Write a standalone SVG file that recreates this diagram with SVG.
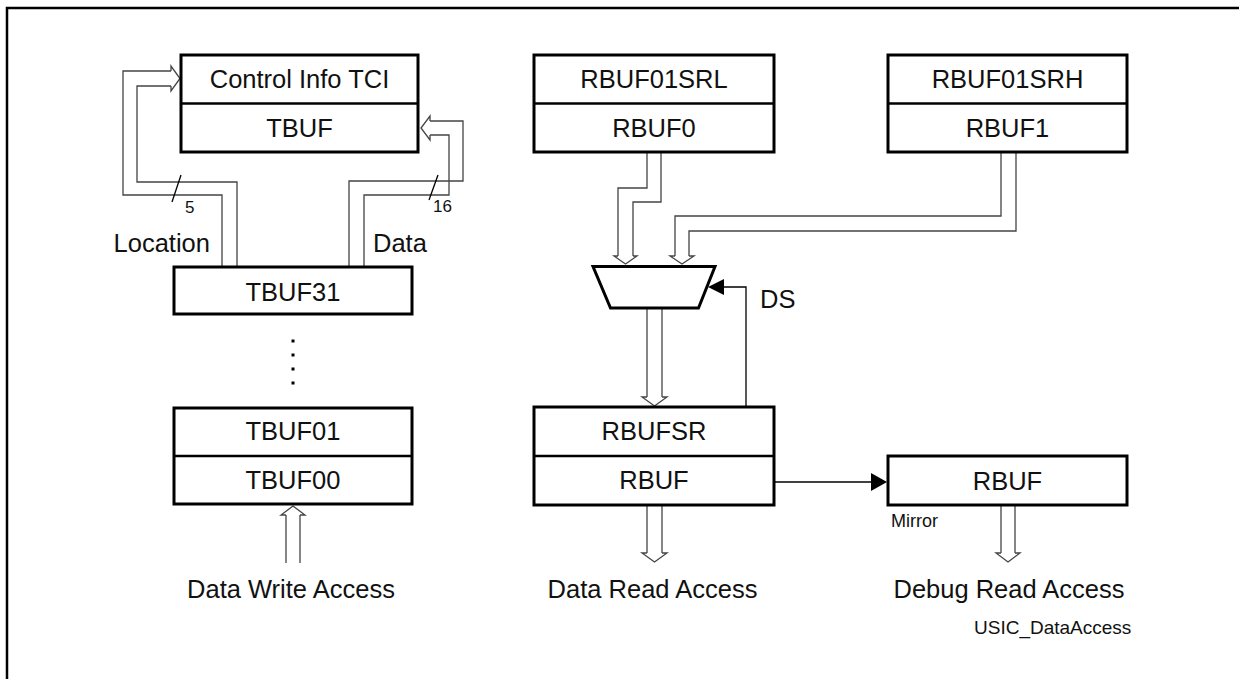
<svg xmlns="http://www.w3.org/2000/svg" width="1239" height="679" viewBox="0 0 1239 679">
<style>
  .box{fill:#fff;stroke:#000;stroke-width:3}
  .div{stroke:#000;stroke-width:2.5}
  .t{font-family:"Liberation Sans",Arial,sans-serif;font-size:25.5px;fill:#111;text-anchor:middle}
  .s{font-family:"Liberation Sans",Arial,sans-serif;font-size:18px;fill:#111}
  .bus{fill:none;stroke:#444;stroke-width:1.3}
  .head{fill:#fff;stroke:#444;stroke-width:1.3}
  .sig{fill:none;stroke:#000;stroke-width:1.3}
</style>
<rect width="1239" height="679" fill="#fff"/>
<path d="M7 679 V8 H1239" fill="none" stroke="#000" stroke-width="2.5"/>

<g id="connectors">
  <!-- Location bus to Control Info -->
  <polyline class="bus" points="222,267 222,195 123,195 123,71 171,71"/>
  <polyline class="bus" points="237,267 237,182 137,182 137,86 171,86"/>
  <polyline class="head" points="171,71 171,66 180,78.5 171,91 171,86"/>
  <line class="sig" x1="181" y1="175" x2="172" y2="202"/>
  <!-- Data bus to TBUF -->
  <polyline class="bus" points="349,267 349,181 463,181 463,121 430,121"/>
  <polyline class="bus" points="364,267 364,195 449,195 449,135 430,135"/>
  <polyline class="head" points="430,121 430,116 421,128 430,140 430,135"/>
  <line class="sig" x1="438" y1="175" x2="429" y2="200"/>
  <!-- Data write access -->
  <polyline class="bus" points="286,563 286,515"/>
  <polyline class="bus" points="300,563 300,515"/>
  <polyline class="head" points="286,515 281,515 293,506 305,515 300,515"/>
  <!-- RBUF0 to mux -->
  <polyline class="bus" points="647,153 647,188 618,188 618,256"/>
  <polyline class="bus" points="661,153 661,202 633,202 633,256"/>
  <polyline class="head" points="618,256 614,256 625.5,264 637,256 633,256"/>
  <!-- RBUF1 to mux -->
  <polyline class="bus" points="1001,153 1001,216 675,216 675,256"/>
  <polyline class="bus" points="1016,153 1016,231 689,231 689,256"/>
  <polyline class="head" points="675,256 670,256 682,264 694,256 689,256"/>
  <!-- mux to RBUFSR -->
  <polyline class="bus" points="647,309 647,397"/>
  <polyline class="bus" points="662,309 662,397"/>
  <polyline class="head" points="647,397 642,397 654.5,406 667,397 662,397"/>
  <!-- DS -->
  <polyline class="sig" points="746,406 746,287 722,287"/>
  <polygon points="708,287 724,279 724,295" fill="#000"/>
  <!-- RBUF to mirror -->
  <line class="sig" x1="775" y1="482" x2="872" y2="482"/>
  <polygon points="887,482 871,473 871,491" fill="#000"/>
  <!-- Data read access -->
  <polyline class="bus" points="647,506 647,553"/>
  <polyline class="bus" points="662,506 662,553"/>
  <polyline class="head" points="647,553 642,553 654.5,562 667,553 662,553"/>
  <!-- Debug read access -->
  <polyline class="bus" points="1001,506 1001,553"/>
  <polyline class="bus" points="1015,506 1015,553"/>
  <polyline class="head" points="1001,553 996,553 1008,562 1020,553 1015,553"/>
</g>

<g id="tci-tbuf">
  <rect class="box" x="181" y="55" width="237" height="97"/>
  <line class="div" x1="181" y1="103.5" x2="418" y2="103.5"/>
  <text class="t" x="299.5" y="88">Control Info TCI</text>
  <text class="t" x="299.5" y="137">TBUF</text>
</g>

<g id="tbuf31">
  <rect class="box" x="174" y="267" width="238" height="47"/>
  <text class="t" x="293" y="301">TBUF31</text>
</g>

<g id="dots">
  <rect x="291.5" y="339.5" width="3" height="3" fill="#000"/>
  <rect x="291.5" y="353.5" width="3" height="3" fill="#000"/>
  <rect x="291.5" y="367.5" width="3" height="3" fill="#000"/>
  <rect x="291.5" y="381.5" width="3" height="3" fill="#000"/>
</g>

<g id="tbuf01-00">
  <rect class="box" x="174" y="408" width="238" height="96"/>
  <line class="div" x1="174" y1="456" x2="412" y2="456"/>
  <text class="t" x="293" y="440">TBUF01</text>
  <text class="t" x="293" y="489">TBUF00</text>
</g>

<g id="rbuf01srl">
  <rect class="box" x="534" y="55" width="240" height="97"/>
  <line class="div" x1="534" y1="103.5" x2="774" y2="103.5"/>
  <text class="t" x="654" y="88">RBUF01SRL</text>
  <text class="t" x="654" y="137">RBUF0</text>
</g>

<g id="rbuf01srh">
  <rect class="box" x="888" y="55" width="239" height="97"/>
  <line class="div" x1="888" y1="103.5" x2="1127" y2="103.5"/>
  <text class="t" x="1007.5" y="88">RBUF01SRH</text>
  <text class="t" x="1007.5" y="137">RBUF1</text>
</g>

<g id="mux">
  <polygon points="593,266.5 715,266.5 698.5,308 610.5,308" fill="#fff" stroke="#000" stroke-width="3"/>
</g>

<g id="rbufsr">
  <rect class="box" x="534" y="407" width="240" height="98"/>
  <line class="div" x1="534" y1="456" x2="774" y2="456"/>
  <text class="t" x="654" y="440">RBUFSR</text>
  <text class="t" x="654" y="489">RBUF</text>
</g>

<g id="rbuf-mirror">
  <rect class="box" x="888" y="456" width="239" height="49"/>
  <text class="t" x="1007.5" y="490">RBUF</text>
</g>

<g id="labels">
  <text class="t" x="210" y="252" style="text-anchor:end">Location</text>
  <text class="t" x="373" y="252" style="text-anchor:start">Data</text>
  <text class="s" x="185" y="213" style="font-size:17px">5</text>
  <text class="s" x="433" y="212" style="font-size:17px">16</text>
  <text class="t" x="760" y="308" style="text-anchor:start">DS</text>
  <text class="s" x="891" y="527">Mirror</text>
  <text class="t" x="291" y="598">Data Write Access</text>
  <text class="t" x="652.5" y="598">Data Read Access</text>
  <text class="t" x="1009" y="598">Debug Read Access</text>
  <text class="s" x="974" y="634" style="font-size:19px">USIC_DataAccess</text>
</g>
</svg>
